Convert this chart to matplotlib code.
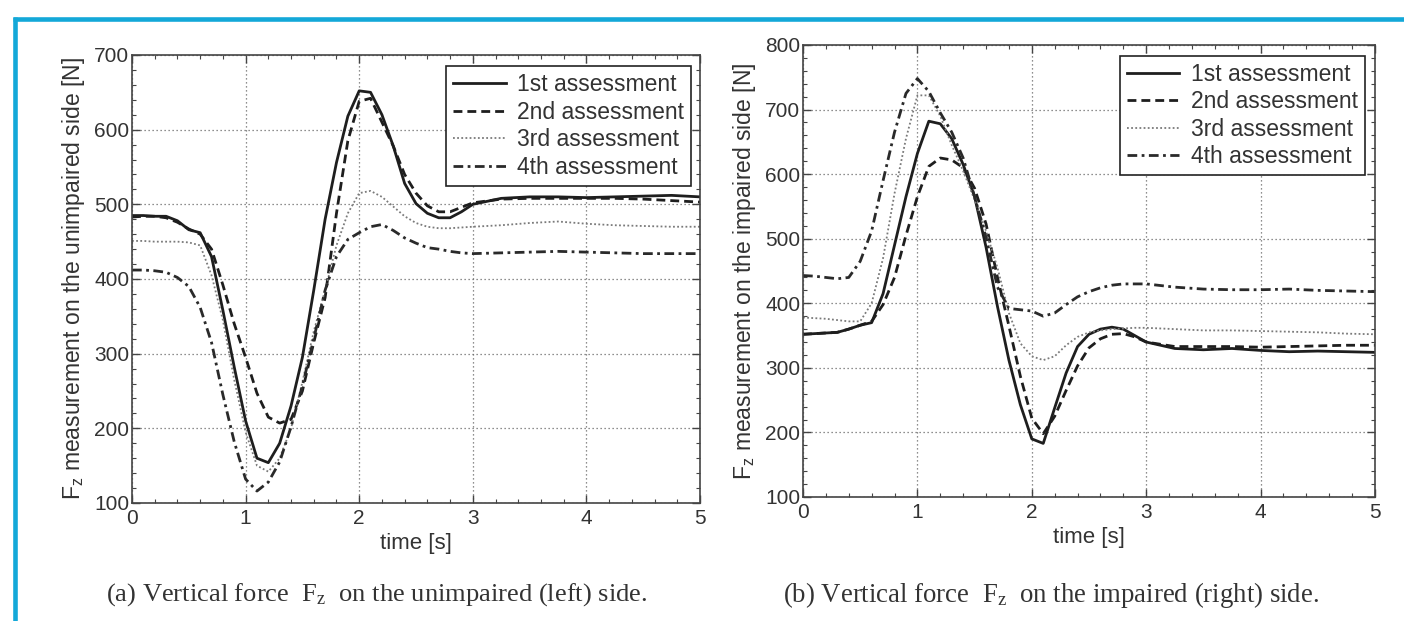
import matplotlib
matplotlib.use("Agg")
import matplotlib.pyplot as plt
from matplotlib.lines import Line2D
from matplotlib.ticker import MultipleLocator

plt.rcParams['font.family'] = ['Liberation Sans', 'DejaVu Sans']

# ---------------- data ----------------
time_s = [0.0, 0.1, 0.2, 0.3, 0.4, 0.5, 0.6, 0.7, 0.8, 0.9,
          1.0, 1.1, 1.2, 1.3, 1.4, 1.5, 1.6, 1.7, 1.8, 1.9,
          2.0, 2.1, 2.2, 2.3, 2.4, 2.5, 2.6, 2.7, 2.8, 2.9,
          3.0, 3.25, 3.5, 3.75, 4.0, 4.25, 4.5, 4.75, 5.0]

labels = ['1st assessment', '2nd assessment', '3rd assessment', '4th assessment']

# (a) unimpaired (left) side
left_1st = [485, 485, 484, 484, 478, 466, 462, 430, 358, 282,
            210, 160, 154, 180, 230, 295, 385, 480, 556, 618,
            652, 650, 620, 578, 528, 501, 488, 482, 482, 490,
            500, 508, 510, 510, 509, 510, 511, 512, 510]
left_2nd = [483, 484, 484, 482, 476, 467, 460, 440, 392, 340,
            295, 247, 215, 207, 212, 250, 315, 375, 488, 585,
            638, 642, 610, 578, 540, 515, 498, 490, 490, 496,
            502, 507, 508, 508, 508, 508, 507, 505, 503]
left_3rd = [451, 451, 450, 450, 450, 449, 445, 405, 345, 265,
            195, 150, 142, 160, 200, 262, 330, 385, 445, 488,
            515, 518, 510, 497, 484, 475, 470, 468, 468, 469,
            470, 472, 475, 477, 474, 472, 471, 470, 470]
left_4th = [412, 412, 411, 409, 402, 390, 362, 315, 245, 182,
            132, 116, 128, 155, 202, 257, 320, 385, 430, 453,
            462, 470, 473, 465, 455, 448, 442, 440, 437, 435,
            434, 435, 436, 437, 436, 435, 434, 434, 434]

# (b) impaired (right) side
right_1st = [352, 353, 354, 355, 360, 366, 370, 415, 490, 565,
             632, 682, 678, 655, 615, 565, 487, 395, 312, 243,
             190, 183, 238, 292, 333, 352, 360, 363, 360, 350,
             340, 330, 328, 330, 327, 325, 326, 325, 324]
right_2nd = [352, 353, 354, 355, 360, 366, 372, 398, 440, 505,
             565, 612, 625, 622, 610, 578, 523, 440, 365, 287,
             222, 198, 225, 265, 303, 331, 345, 352, 353, 348,
             340, 333, 333, 333, 332, 333, 334, 335, 335]
right_3rd = [378, 377, 376, 374, 372, 372, 400, 470, 570, 655,
             722, 722, 690, 645, 605, 560, 512, 455, 385, 338,
             318, 312, 318, 335, 348, 355, 358, 360, 361, 362,
             362, 360, 358, 358, 357, 356, 355, 353, 352]
right_4th = [443, 442, 440, 438, 440, 465, 512, 590, 665, 725,
             748, 728, 695, 665, 625, 565, 502, 425, 392, 390,
             388, 380, 385, 398, 410, 418, 424, 428, 430, 430,
             430, 425, 422, 421, 421, 422, 420, 419, 418]

left_ylim = (100, 700)
right_ylim = (100, 800)
xlim = (0, 5)

ylabel_left = r'$\mathregular{F_z}$ measurement on the unimpaired side [N]'
ylabel_right = r'$\mathregular{F_z}$ measurement on the impaired side [N]'
xlabel = 'time [s]'
caption_a = r'(a) Vertical force  $\mathregular{F_z}$  on the unimpaired (left) side.'
caption_b = r'(b) Vertical force  $\mathregular{F_z}$  on the impaired (right) side.'

# ---------------- styles ----------------
styles = [
    dict(color='#1e1e1e', linestyle='-', linewidth=2.0),
    dict(color='#1e1e1e', linestyle=(0, (3.2, 1.8)), linewidth=2.0),
    dict(color='#7a7a7a', linestyle=(0, (1.0, 1.3)), linewidth=1.3),
    dict(color='#2a2a2a', linestyle=(0, (3.5, 1.6, 1.0, 1.6)), linewidth=2.0),
]

W, H = 1404, 621
fig = plt.figure(figsize=(W / 100, H / 100), dpi=100)


def px_rect(x0, x1, ytop, ybot):
    return [x0 / W, 1 - ybot / H, (x1 - x0) / W, (ybot - ytop) / H]


axL = fig.add_axes(px_rect(132, 700, 55, 503))
axR = fig.add_axes(px_rect(803, 1375, 45, 497))

TXT = '#333333'


def style_axes(ax, ylim, ymajor, series, ylabel, leg_anchor):
    for s, st, lab in zip(series, styles, labels):
        ax.plot(time_s, s, label=lab, **st)
    ax.set_xlim(*xlim)
    ax.set_ylim(*ylim)
    ax.xaxis.set_major_locator(MultipleLocator(1))
    ax.xaxis.set_minor_locator(MultipleLocator(0.2))
    ax.yaxis.set_major_locator(MultipleLocator(ymajor))
    ax.yaxis.set_minor_locator(MultipleLocator(20))
    ax.tick_params(which='both', direction='in', top=True, right=True,
                   colors='#444444', labelcolor=TXT)
    ax.tick_params(which='major', length=6, width=1.0, labelsize=15)
    ax.tick_params(which='minor', length=3, width=0.8)
    ax.tick_params(axis='y', pad=2)
    ax.tick_params(axis='x', pad=4)
    ax.grid(True, which='major', linestyle=(0, (1, 2.2)), color='#6a6a6a',
            linewidth=0.9)
    ax.set_axisbelow(True)
    for sp in ax.spines.values():
        sp.set_color('#444444')
        sp.set_linewidth(1.2)
    ax.set_xlabel(xlabel, fontsize=16, color=TXT, labelpad=4)
    ax.set_ylabel(ylabel, fontsize=16.5, color=TXT, labelpad=5)
    leg = ax.legend(loc='upper right', bbox_to_anchor=leg_anchor,
                    borderaxespad=0, fontsize=16.5, frameon=True, fancybox=False,
                    edgecolor='#222222', framealpha=1, labelspacing=0.2,
                    handlelength=2.3, handletextpad=0.5, borderpad=0.3)
    leg.get_frame().set_linewidth(1.2)
    for t in leg.get_texts():
        t.set_color(TXT)


style_axes(axL, left_ylim, 100, [left_1st, left_2nd, left_3rd, left_4th],
           ylabel_left, (0.984, 0.975))
style_axes(axR, right_ylim, 100, [right_1st, right_2nd, right_3rd, right_4th],
           ylabel_right, (0.982, 0.976))

capA = fig.text(377 / W, 1 - 595 / H, caption_a, ha='center', va='center',
                family=['Liberation Serif', 'DejaVu Serif'], fontsize=14, color=TXT)
capB = fig.text(1051 / W, 1 - 595 / H, caption_b, ha='center', va='center',
                family=['Liberation Serif', 'DejaVu Serif'], fontsize=14, color=TXT)

renderer = fig.canvas.get_renderer()
for txt, target in [(capA, 543), (capB, 538)]:
    w = txt.get_window_extent(renderer).width
    txt.set_fontsize(txt.get_fontsize() * target / w)

# cyan frame (top and left)
frame_col = '#13a8d8'
fig.add_artist(Line2D([13 / W, 1.0], [1 - 18.5 / H, 1 - 18.5 / H],
                      transform=fig.transFigure, color=frame_col, linewidth=3.3,
                      solid_capstyle='butt'))
fig.add_artist(Line2D([15 / W, 15 / W], [0, 1 - 16.5 / H],
                      transform=fig.transFigure, color=frame_col, linewidth=3.3,
                      solid_capstyle='butt'))

fig.savefig('out.png', dpi=100)
